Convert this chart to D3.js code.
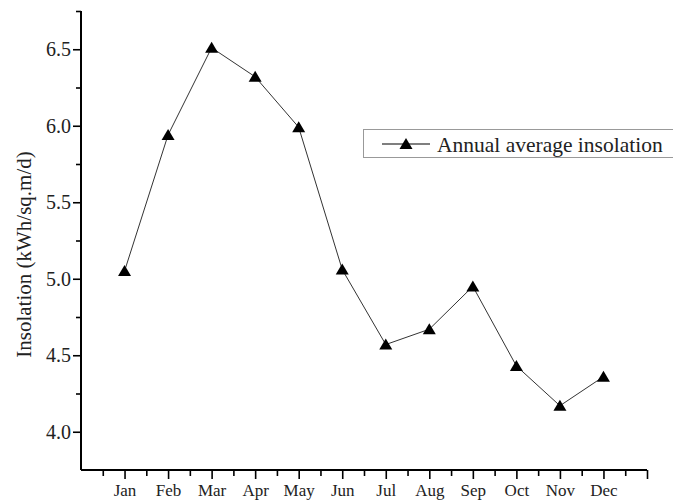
<!DOCTYPE html>
<html>
<head>
<meta charset="utf-8">
<script src="https://cdn.jsdelivr.net/npm/d3@7"></script>
<style>
  html, body { margin: 0; padding: 0; background: #fff; }
  svg { display: block; }
  svg text { font-family: "Liberation Serif", "Times New Roman", serif; }
</style>
</head>
<body>
<svg id="chart" width="673" height="502"></svg>
<script>
const months = ["Jan","Feb","Mar","Apr","May","Jun","Jul","Aug","Sep","Oct","Nov","Dec"];
const insolation = [5.05, 5.94, 6.51, 6.32, 5.99, 5.06, 4.57, 4.67, 4.95, 4.43, 4.17, 4.36];
const yTicks = [4.0, 4.5, 5.0, 5.5, 6.0, 6.5];
const yMinorTicks = [4.25, 4.75, 5.25, 5.75, 6.25, 6.75];
const seriesName = "Annual average insolation";
const yTitle = "Insolation (kWh/sq.m/d)";
const FONT = "Liberation Serif, Times New Roman, serif";

const svg = d3.select("#chart");
const x = d3.scaleLinear().domain([0, 13]).range([81, 647]);
const y = d3.scaleLinear().domain([3.75, 6.75]).range([470, 11]);

const xMajor = d3.range(1, 14);
const xMinor = d3.range(0.5, 13, 1);

// Y axis
const gy = svg.append("g").attr("transform", `translate(${x(0)},0)`);
gy.call(d3.axisLeft(y).tickValues(yTicks).tickFormat(d3.format(".1f")).tickSize(8).tickSizeOuter(0).tickPadding(2));
gy.attr("font-family", FONT);
gy.select(".domain").remove();
gy.selectAll(".tick line").attr("stroke", "#000").attr("stroke-width", 1.6);
gy.selectAll(".tick text").attr("font-size", 20).attr("fill", "#222");
const gym = svg.append("g").attr("transform", `translate(${x(0)},0)`);
gym.call(d3.axisLeft(y).tickValues(yMinorTicks).tickFormat("").tickSize(5).tickSizeOuter(0));
gym.select(".domain").remove();
gym.selectAll(".tick line").attr("stroke", "#000").attr("stroke-width", 1.6);

// X axis
const gx = svg.append("g").attr("transform", `translate(0,${y(3.75)})`);
gx.call(d3.axisBottom(x).tickValues(xMajor).tickFormat(d => months[d - 1] || "").tickSize(9).tickSizeOuter(0).tickPadding(5));
gx.attr("font-family", FONT);
gx.select(".domain").remove();
gx.selectAll(".tick line").attr("stroke", "#000").attr("stroke-width", 1.6);
gx.selectAll(".tick text").attr("font-size", 17).attr("fill", "#222");
const gxm = svg.append("g").attr("transform", `translate(0,${y(3.75)})`);
gxm.call(d3.axisBottom(x).tickValues(xMinor).tickFormat("").tickSize(6).tickSizeOuter(0));
gxm.select(".domain").remove();
gxm.selectAll(".tick line").attr("stroke", "#000").attr("stroke-width", 1.6);

// Axis lines
svg.append("line").attr("x1", x(0)).attr("x2", x(0)).attr("y1", y(6.75)).attr("y2", y(3.75))
  .attr("stroke", "#000").attr("stroke-width", 2);
svg.append("line").attr("x1", x(0)).attr("x2", x(13)).attr("y1", y(3.75)).attr("y2", y(3.75))
  .attr("stroke", "#000").attr("stroke-width", 2);

// Y title
svg.append("text")
  .attr("transform", `translate(24,${(y(6.75)+y(3.75))/2 + 14}) rotate(-90)`)
  .attr("text-anchor", "middle")
  .attr("dominant-baseline", "central")
  .attr("font-family", FONT)
  .attr("font-size", 21)
  .attr("fill", "#222")
  .text(yTitle);

// Line
const line = d3.line().x((d, i) => x(i + 1)).y(d => y(d));
svg.append("path").datum(insolation).attr("d", line)
  .attr("fill", "none").attr("stroke", "#333").attr("stroke-width", 1);

const tri = (cx, cy) => `M${cx},${cy-6}L${cx+6.5},${cy+5}L${cx-6.5},${cy+5}Z`;
svg.append("g").selectAll("path").data(insolation).join("path")
  .attr("d", (d, i) => tri(x(i + 1), y(d)))
  .attr("fill", "#000");

// Legend
const lg = svg.append("g");
lg.append("rect").attr("x", 363.5).attr("y", 129.5).attr("width", 310).attr("height", 28)
  .attr("fill", "#fff").attr("stroke", "#999").attr("stroke-width", 1);
lg.append("line").attr("x1", 382).attr("x2", 430).attr("y1", 144).attr("y2", 144)
  .attr("stroke", "#000").attr("stroke-width", 1.2);
lg.append("path").attr("d", tri(406, 144)).attr("fill", "#000");
lg.append("text").attr("x", 437).attr("y", 152).attr("font-family", FONT).attr("font-size", 21.5).attr("fill", "#222").text(seriesName);
</script>
</body>
</html>
